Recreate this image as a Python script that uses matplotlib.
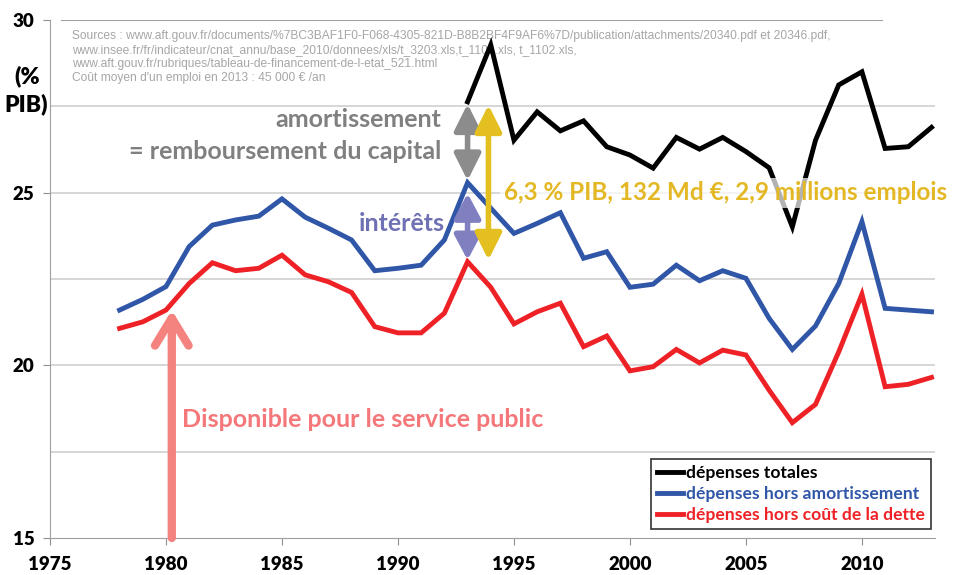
import matplotlib.pyplot as plt

# années
years = list(range(1978, 2014))
years_total = list(range(1993, 2014))

# dépenses en % du PIB
total = [27.63, 29.28, 26.52, 27.34, 26.79, 27.08, 26.33, 26.09, 25.71, 26.60,
         26.26, 26.60, 26.19, 25.72, 24.01, 26.52, 28.12, 28.50, 26.28, 26.33, 26.89]
hors_amort = [21.60, 21.91, 22.28, 23.44, 24.06, 24.21, 24.32, 24.82, 24.29, 23.97,
              23.63, 22.74, 22.81, 22.90, 23.63, 25.29, 24.55, 23.82, 24.11, 24.42,
              23.10, 23.29, 22.26, 22.35, 22.90, 22.45, 22.74, 22.52, 21.36, 20.46,
              21.14, 22.37, 24.16, 21.65, 21.60, 21.55]
hors_dette = [21.07, 21.26, 21.60, 22.37, 22.97, 22.74, 22.81, 23.19, 22.62, 22.42,
              22.11, 21.12, 20.94, 20.94, 21.51, 23.00, 22.26, 21.20, 21.55, 21.80,
              20.54, 20.85, 19.84, 19.96, 20.46, 20.07, 20.44, 20.30, 19.28, 18.34,
              18.87, 20.39, 22.06, 19.38, 19.45, 19.65]

sources = ("Sources : www.aft.gouv.fr/documents/%7BC3BAF1F0-F068-4305-821D-B8B2BF4F9AF6%7D/publication/attachments/20340.pdf et 20346.pdf,\n"
           "www.insee.fr/fr/indicateur/cnat_annu/base_2010/donnees/xls/t_3203.xls,t_1101.xls, t_1102.xls,\n"
           "www.aft.gouv.fr/rubriques/tableau-de-financement-de-l-etat_521.html\n"
           "Coût moyen d'un emploi en 2013 : 45 000 € /an")

plt.rcParams['font.family'] = ['Lato', 'DejaVu Sans']

fig = plt.figure(figsize=(9.58, 5.75), dpi=100)
ax = fig.add_axes([50 / 958, 37 / 575, 885 / 958, 518 / 575])

# grille horizontale
for yv in [17.5, 20, 22.5, 25, 27.5]:
    ax.axhline(yv, color='#d0d0d0', lw=1.2, zorder=0)
ax.axhline(30, xmin=0.014, xmax=0.94, color='#a0a0a0', lw=1.5, zorder=0)

ax.plot(years_total, total, color='black', lw=3.5, solid_joinstyle='miter', zorder=3, label='dépenses totales')
ax.plot(years, hors_amort, color='#3056a8', lw=3.5, solid_joinstyle='miter', zorder=3, label='dépenses hors amortissement')
ax.plot(years, hors_dette, color='#ee2226', lw=3.5, solid_joinstyle='miter', zorder=3, label='dépenses hors coût de la dette')

ax.set_xlim(1975, 2013.15)
ax.set_ylim(15, 30)
ax.set_xticks(range(1975, 2015, 5))
ax.set_yticks([15, 20, 25, 30])
ax.tick_params(axis='both', colors='#909090', length=5, labelcolor='black', labelsize=13.5)
ax.tick_params(axis='x', pad=8)
ax.tick_params(axis='y', pad=6)
for lab in ax.get_xticklabels() + ax.get_yticklabels():
    lab.set_fontweight('heavy')
for s in ['top', 'right']:
    ax.spines[s].set_visible(False)
for s in ['left', 'bottom']:
    ax.spines[s].set_color('#a0a0a0')

fig.text(27 / 958, 1 - 76 / 575, '(%', ha='center', va='center', fontsize=16.5, fontweight='heavy')
fig.text(26 / 958, 1 - 104 / 575, 'PIB)', ha='center', va='center', fontsize=16.5, fontweight='heavy')

# sources
ax.text(1975.95, 29.72, sources, ha='left', va='top', fontsize=8.65, color='#a6a6a6',
        family='Liberation Sans', linespacing=1.25, zorder=1)

# flèches
ax.annotate('', xy=(1993.0, 27.57), xytext=(1993.0, 25.35),
            arrowprops=dict(arrowstyle='<|-|>,head_length=0.8,head_width=0.4', color='#8c8c8c',
                            lw=4, mutation_scale=20, shrinkA=0, shrinkB=0), zorder=4)
ax.annotate('', xy=(1993.0, 24.98), xytext=(1993.0, 23.05),
            arrowprops=dict(arrowstyle='<|-|>,head_length=0.75,head_width=0.4', color='#8080c0',
                            lw=4, mutation_scale=20, shrinkA=0, shrinkB=0), zorder=4)
ax.annotate('', xy=(1993.9, 27.54), xytext=(1993.9, 23.05),
            arrowprops=dict(arrowstyle='<|-|>,head_length=0.8,head_width=0.4', color='#e3c020',
                            lw=4, mutation_scale=20, shrinkA=0, shrinkB=0), zorder=4)
ax.annotate('', xy=(1980.25, 21.6), xytext=(1980.25, 15.0),
            arrowprops=dict(arrowstyle='->,head_length=0.9,head_width=0.55', color='#f4837f',
                            lw=6, mutation_scale=22, shrinkA=0, shrinkB=0, capstyle='round',
                            joinstyle='round'), zorder=4)

# textes
ax.text(1991.85, 27.13, 'amortissement', ha='right', va='center', fontsize=18,
        fontweight='bold', color='#808080')
ax.text(1991.85, 26.2, '= remboursement du capital', ha='right', va='center', fontsize=18,
        fontweight='bold', color='#808080')
ax.text(1992.0, 24.1, 'intérêts', ha='right', va='center', fontsize=18,
        fontweight='bold', color='#7070b4')
ax.text(1994.55, 25.0, '6,3 % PIB, 132 Md €, 2,9 millions emplois', ha='left', va='center',
        fontsize=17.5, fontweight='bold', color='#e3b824', zorder=5,
        bbox=dict(boxstyle='square,pad=0.15', fc='white', ec='none', alpha=0.7))
ax.text(1980.7, 18.42, 'Disponible pour le service public', ha='left', va='center', fontsize=18,
        fontweight='bold', color='#f4777a')

leg = ax.legend(loc='lower right', bbox_to_anchor=(1.005, 0.0), frameon=True, fancybox=False,
                edgecolor='black', handlelength=1.5, handletextpad=0.15,
                borderpad=0.35, labelspacing=0.3, prop={'weight': 'bold', 'size': 12.6})
leg.get_frame().set_linewidth(1.2)
for txt, line in zip(leg.get_texts(), leg.get_lines()):
    txt.set_color(line.get_color())

fig.savefig('out.png', dpi=100)
